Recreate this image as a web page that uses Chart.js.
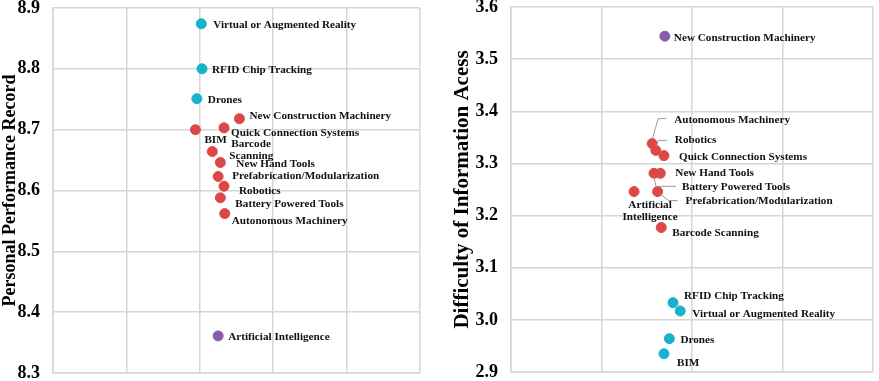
<!DOCTYPE html>
<html>
<head>
<meta charset="utf-8">
<script src="https://cdn.jsdelivr.net/npm/chart.js@4/dist/chart.umd.min.js"></script>
<style>
  html, body { margin: 0; padding: 0; background: #fff; }
  #wrap { position: relative; width: 879px; height: 381px; }
  .box { position: absolute; top: 0; height: 381px; }
</style>
</head>
<body>
<div id="wrap">
  <div class="box" style="left:0;width:440px"><canvas id="perfChart" width="440" height="381"></canvas></div>
  <div class="box" style="left:440px;width:439px"><canvas id="accessChart" width="439" height="381"></canvas></div>
</div>
<script>
// technologies, same order in both charts
const techs = [
  'Virtual or Augmented Reality', 'RFID Chip Tracking', 'Drones', 'New Construction Machinery',
  'BIM', 'Quick Connection Systems', 'Barcode Scanning', 'New Hand Tools',
  'Prefabrication/Modularization', 'Robotics', 'Battery Powered Tools', 'Autonomous Machinery',
  'Artificial Intelligence'
];

// left chart: Personal Performance Record
const perfX = [2.02, 2.03, 1.96, 2.54, 1.94, 2.33, 2.17, 2.28, 2.25, 2.33, 2.28, 2.34, 2.25];
const perfY = [8.874, 8.800, 8.751, 8.718, 8.700, 8.703, 8.664, 8.646, 8.623, 8.607, 8.588, 8.562, 8.361];
const perfGroup = ['cyan', 'cyan', 'cyan', 'red', 'red', 'red', 'red', 'red', 'red', 'red', 'red', 'red', 'purple'];
const perfTicks = [8.3, 8.4, 8.5, 8.6, 8.7, 8.8, 8.9];

// right chart: Difficulty of Information Acess
const accessX = [1.87, 1.79, 1.75, 1.70, 1.69, 1.69, 1.66, 1.65, 1.62, 1.60, 1.58, 1.56, 1.36];
const accessY = [3.017, 3.033, 2.964, 3.544, 2.935, 3.315, 3.177, 3.281, 3.246, 3.325, 3.281, 3.338, 3.246];
const accessGroup = ['cyan', 'cyan', 'cyan', 'purple', 'cyan', 'red', 'red', 'red', 'red', 'red', 'red', 'red', 'red'];
const accessTicks = [2.9, 3.0, 3.1, 3.2, 3.3, 3.4, 3.5, 3.6];

const colors = { cyan: '#17b2cc', red: '#dd4747', purple: '#8a5caf' };
const gridColor = '#d6d6d6';
const serif = "'Liberation Serif', 'Times New Roman', serif";

// label placement: [dx, dy] from the dot, optional multi-line text, align and leader line
const perfLabels = [
  { at: [12, 1] }, { at: [10, 1] }, { at: [11, 1] }, { at: [10, -3] },
  { at: [9, 10] }, { at: [7, 5] },
  { lines: [['Barcode', 19, -7], ['Scanning', 17, 5]] },
  { at: [16, 2] }, { at: [14, 0] }, { at: [15, 5] }, { at: [15, 6] }, { at: [7, 7] },
  { at: [10, 1] }
];
const accessLabels = [
  { at: [12, 3] }, { at: [11, -7] }, { at: [11, 1] }, { at: [9, 2] },
  { at: [13, 9] }, { at: [15, 1] }, { at: [11, 6] }, { at: [15, 0] },
  { at: [28, 10], leader: [[2, 2], [11, 9], [20, 9]] },
  { at: [19, -10], leader: [[0, -4], [3, -10], [11, -10]] },
  { at: [28, 14], leader: [[0, 4], [2, 13], [22, 13]] },
  { at: [22, -24], leader: [[0, -4], [6, -25], [14, -25]] },
  { lines: [['Artificial', 16, 14], ['Intelligence', 16, 26]], align: 'center' }
];

function makeDatasets(xs, ys, groups) {
  return ['cyan', 'red', 'purple'].map(function (g) {
    const pts = [];
    xs.forEach(function (x, i) {
      if (groups[i] === g) pts.push({ x: x, y: ys[i], name: techs[i], idx: i });
    });
    return {
      data: pts,
      backgroundColor: colors[g],
      borderColor: colors[g],
      pointRadius: 5,
      pointHoverRadius: 5
    };
  });
}

const pointLabels = {
  id: 'pointLabels',
  afterDatasetsDraw(chart, args, opts) {
    const ctx = chart.ctx;
    ctx.save();
    ctx.font = 'bold 11.2px ' + serif;
    ctx.fillStyle = '#111';
    ctx.textBaseline = 'middle';
    chart.data.datasets.forEach(function (ds, di) {
      chart.getDatasetMeta(di).data.forEach(function (el, k) {
        const p = ds.data[k];
        const cfg = opts.labels[p.idx];
        if (cfg.leader) {
          ctx.strokeStyle = '#9a9a9a';
          ctx.lineWidth = 1;
          ctx.beginPath();
          cfg.leader.forEach(function (q, n) {
            if (n === 0) ctx.moveTo(el.x + q[0], el.y + q[1]);
            else ctx.lineTo(el.x + q[0], el.y + q[1]);
          });
          ctx.stroke();
        }
        ctx.textAlign = cfg.align || 'left';
        if (cfg.lines) {
          cfg.lines.forEach(function (ln) {
            ctx.fillText(ln[0], el.x + ln[1], el.y + ln[2]);
          });
        } else {
          ctx.fillText(p.name, el.x + cfg.at[0], el.y + cfg.at[1]);
        }
      });
    });
    ctx.restore();
  }
};

function buildChart(id, opt) {
  return new Chart(document.getElementById(id), {
    type: 'scatter',
    data: { datasets: makeDatasets(opt.xs, opt.ys, opt.groups) },
    plugins: [pointLabels],
    options: {
      responsive: false,
      animation: false,
      layout: { padding: opt.padding },
      plugins: {
        legend: { display: false },
        tooltip: { enabled: false },
        pointLabels: { labels: opt.labels }
      },
      scales: {
        x: {
          type: 'linear',
          min: 0,
          max: opt.xMax,
          ticks: { display: false, stepSize: 1 },
          grid: { color: gridColor, lineWidth: 1.5, drawTicks: false },
          border: { color: gridColor, width: 1.5 }
        },
        y: {
          type: 'linear',
          min: opt.ticks[0],
          max: opt.ticks[opt.ticks.length - 1],
          afterBuildTicks: function (scale) {
            scale.ticks = opt.ticks.map(function (v) { return { value: v }; });
          },
          afterFit: function (scale) {
            scale.width = opt.axisWidth;
            scale.paddingTop = opt.vPad[0];
            scale.paddingBottom = opt.vPad[1];
          },
          ticks: {
            color: '#000',
            padding: 13,
            font: { family: serif, size: 18, weight: 'bold' },
            callback: function (v) { return Number(v).toFixed(1); }
          },
          title: {
            display: true,
            text: opt.title,
            color: '#000',
            padding: 0,
            font: { family: serif, size: opt.titleSize, weight: 'bold' }
          },
          grid: { color: gridColor, lineWidth: 1.5, drawTicks: false },
          border: { color: gridColor, width: 1.5 }
        }
      }
    }
  });
}

buildChart('perfChart', {
  xs: perfX, ys: perfY, groups: perfGroup, ticks: perfTicks, xMax: 5,
  title: 'Personal Performance Record', labels: perfLabels, titleSize: 18,
  axisWidth: 53, vPad: [8, 8], padding: { left: 0, right: 20, top: 0, bottom: 0 }
});

buildChart('accessChart', {
  xs: accessX, ys: accessY, groups: accessGroup, ticks: accessTicks, xMax: 4,
  title: 'Difficulty of Information Acess', labels: accessLabels, titleSize: 21,
  axisWidth: 61, vPad: [7, 9], padding: { left: 10, right: 2, top: 0, bottom: 0 }
});
</script>
</body>
</html>
